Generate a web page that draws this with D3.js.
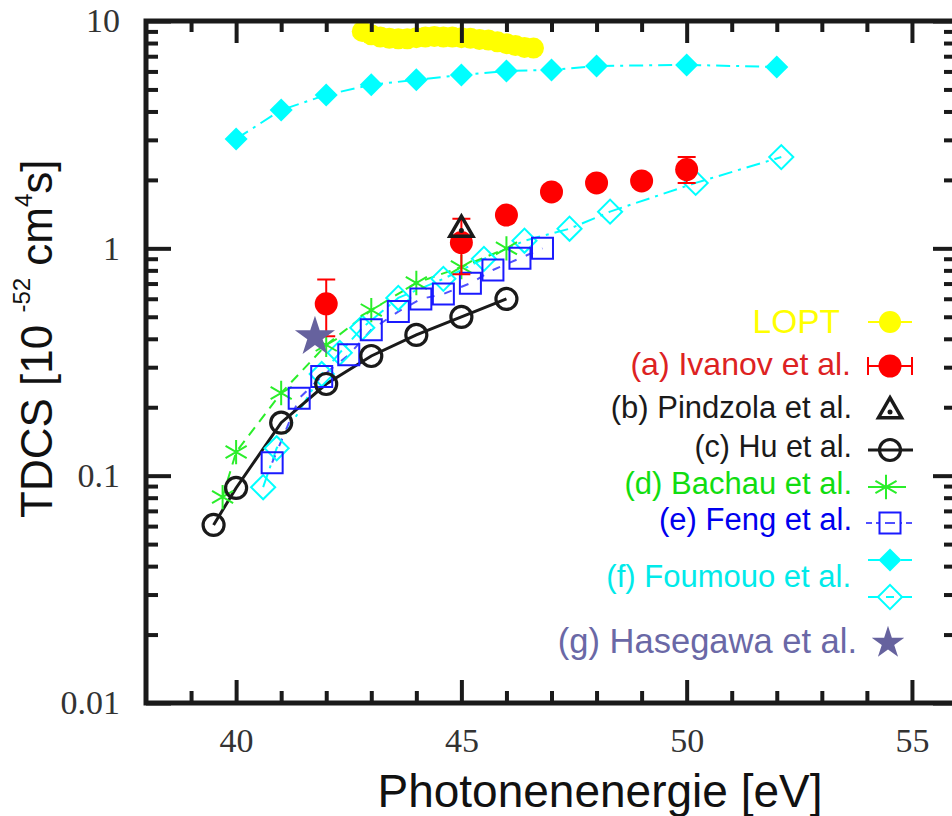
<!DOCTYPE html>
<html lang="de">
<head>
<meta charset="UTF-8">
<title>TDCS Photonenenergie</title>
<script src="https://cdn.jsdelivr.net/npm/d3@7"></script>
<style>
  body{margin:0;background:#fff;}
  svg{display:block;}
</style>
</head>
<body>
<svg width="952" height="816"></svg>
<script>
// ---- data ----
var loptE = [42.8, 43.0, 43.2, 43.4, 43.6, 43.8, 44.0, 44.2, 44.4, 44.6, 44.8, 45.0, 45.2, 45.4, 45.6, 45.8, 46.0, 46.2, 46.4, 46.6];
var loptV = [9.0, 8.7, 8.5, 8.4, 8.35, 8.35, 8.45, 8.5, 8.55, 8.5, 8.5, 8.45, 8.4, 8.3, 8.25, 8.1, 7.95, 7.8, 7.65, 7.6];

var ivanovE  = [42, 45, 46, 47, 48, 49, 50];
var ivanovV  = [0.57, 1.06, 1.40, 1.77, 1.94, 1.98, 2.22];
var ivanovLo = [0.41, 0.77, null, null, null, null, 1.94];
var ivanovHi = [0.73, 1.35, null, null, null, null, 2.52];

var pindzolaE = [45];
var pindzolaV = [1.21];

var huE = [39.5, 40, 41, 42, 43, 44, 45, 46];
var huV = [0.0607, 0.0883, 0.171, 0.253, 0.336, 0.416, 0.499, 0.599];

var bachauE = [39.7, 40, 41, 42, 43, 44, 45, 46];
var bachauV = [0.0805, 0.127, 0.231, 0.376, 0.535, 0.704, 0.828, 1.00];

var fengE = [40.8, 41.4, 41.9, 42.5, 43.0, 43.6, 44.1, 44.6, 45.2, 45.7, 46.3, 46.8];
var fengV = [0.114, 0.219, 0.273, 0.340, 0.438, 0.527, 0.599, 0.630, 0.702, 0.803, 0.904, 1.00];

var foumouoFullE = [40, 41, 42, 43, 44, 45, 46, 47, 48, 50, 52];
var foumouoFullV = [3.03, 4.06, 4.73, 5.24, 5.51, 5.79, 6.03, 6.09, 6.34, 6.41, 6.28];

var foumouoOpenE = [40.6, 40.9, 41.9, 42.3, 42.8, 43.6, 44.6, 45.5, 46.4, 47.4, 48.3, 50.2, 52.1];
var foumouoOpenV = [0.089, 0.132, 0.280, 0.347, 0.447, 0.605, 0.734, 0.899, 1.08, 1.22, 1.45, 1.94, 2.52];

var hasegawaE = [41.75];
var hasegawaV = [0.408];

var xTicks = [40, 45, 50, 55];
var yTicks = [0.01, 0.1, 1, 10];
var yTickLabels = ['0.01', '0.1', '1', '10'];

var legendLabels = ['LOPT', '(a) Ivanov et al.', '(b) Pindzola et al.', '(c) Hu et al.',
                    '(d) Bachau et al.', '(e) Feng et al.', '(f) Foumouo et al.', '(g) Hasegawa et al.'];

// ---- colours ----
var cYellow = '#ffff00', cRed = '#ff0000', cBlack = '#1a1a1a', cGreen = '#2aee2a',
    cBlue = '#1a1aff', cCyan = '#00ffff', cStar = '#66629e';
var legendColors = ['#ffff00', '#dd2222', '#1a1a1a', '#1a1a1a', '#11dd11', '#0000ee', '#00eaea', '#6a68a6'];

// ---- canvas ----
var svg = d3.select('svg');
var x = d3.scaleLinear().domain([38, 56]).range([146, 957]);
var y = d3.scaleLog().domain([0.01, 10]).range([703, 21]);

function pts(E, V) { return E.map(function(e, i) { return [e, V[i]]; }); }
var line = d3.line().x(function(d) { return x(d[0]); }).y(function(d) { return y(d[1]); });

var plot = svg.append('g');

// lines
plot.append('path').datum(pts(foumouoFullE, foumouoFullV)).attr('d', line)
    .attr('fill', 'none').attr('stroke', cCyan).attr('stroke-width', 2).attr('stroke-dasharray', '14,6,3,6');
plot.append('path').datum(pts(foumouoOpenE, foumouoOpenV)).attr('d', line)
    .attr('fill', 'none').attr('stroke', cCyan).attr('stroke-width', 2).attr('stroke-dasharray', '14,6,3,6');
plot.append('path').datum(pts(bachauE, bachauV)).attr('d', line)
    .attr('fill', 'none').attr('stroke', cGreen).attr('stroke-width', 2).attr('stroke-dasharray', '10,7');
plot.append('path').datum(pts(fengE, fengV)).attr('d', line)
    .attr('fill', 'none').attr('stroke', '#5050ff').attr('stroke-width', 2).attr('stroke-dasharray', '8,10');
plot.append('path').datum(pts(huE, huV)).attr('d', line)
    .attr('fill', 'none').attr('stroke', cBlack).attr('stroke-width', 3);

// markers
var sq = d3.symbol().type(d3.symbolSquare);
function place(d) { return 'translate(' + x(d[0]) + ',' + y(d[1]) + ')'; }

plot.selectAll('.ffull').data(pts(foumouoFullE, foumouoFullV)).enter().append('path')
    .attr('d', sq.size(265)()).attr('transform', function(d) { return place(d) + ' rotate(45)'; })
    .attr('fill', cCyan);
plot.selectAll('.fopen').data(pts(foumouoOpenE, foumouoOpenV)).enter().append('path')
    .attr('d', sq.size(290)()).attr('transform', function(d) { return place(d) + ' rotate(45)'; })
    .attr('fill', 'none').attr('stroke', cCyan).attr('stroke-width', 2);
plot.selectAll('.bach').data(pts(bachauE, bachauV)).enter().append('path')
    .attr('d', d3.symbol().type(d3.symbolAsterisk).size(420)()).attr('transform', place)
    .attr('fill', 'none').attr('stroke', cGreen).attr('stroke-width', 2);
plot.selectAll('.feng').data(pts(fengE, fengV)).enter().append('path')
    .attr('d', d3.symbol().type(d3.symbolSquare).size(441)()).attr('transform', place)
    .attr('fill', 'none').attr('stroke', cBlue).attr('stroke-width', 2);
plot.selectAll('.hu').data(pts(huE, huV)).enter().append('circle')
    .attr('cx', function(d) { return x(d[0]); }).attr('cy', function(d) { return y(d[1]); })
    .attr('r', 10.5).attr('fill', 'none').attr('stroke', cBlack).attr('stroke-width', 3.2);

// Ivanov with error bars
var iv = ivanovE.map(function(e, i) { return {e: e, v: ivanovV[i], lo: ivanovLo[i], hi: ivanovHi[i]}; });
var ivErr = iv.filter(function(d) { return d.lo !== null; });
plot.selectAll('.ivbar').data(ivErr).enter().append('path')
    .attr('d', function(d) {
        var cx = x(d.e), y1 = y(d.hi), y2 = y(d.lo);
        return 'M' + cx + ',' + y1 + 'V' + y2 + 'M' + (cx - 9) + ',' + y1 + 'H' + (cx + 9) +
               'M' + (cx - 9) + ',' + y2 + 'H' + (cx + 9);
    })
    .attr('fill', 'none').attr('stroke', cRed).attr('stroke-width', 2);
plot.selectAll('.iv').data(iv).enter().append('circle')
    .attr('cx', function(d) { return x(d.e); }).attr('cy', function(d) { return y(d.v); })
    .attr('r', 11.5).attr('fill', cRed);

// Pindzola triangle
plot.selectAll('.pin').data(pts(pindzolaE, pindzolaV)).enter().append('path')
    .attr('d', d3.symbol().type(d3.symbolTriangle).size(230)()).attr('transform', place)
    .attr('fill', 'none').attr('stroke', cBlack).attr('stroke-width', 3.5);
plot.selectAll('.pindot').data(pts(pindzolaE, pindzolaV)).enter().append('circle')
    .attr('cx', function(d) { return x(d[0]); }).attr('cy', function(d) { return y(d[1]) + 1; })
    .attr('r', 2.5).attr('fill', cBlack);

// Hasegawa star
plot.selectAll('.star').data(pts(hasegawaE, hasegawaV)).enter().append('path')
    .attr('d', d3.symbol().type(d3.symbolStar).size(500)()).attr('transform', place)
    .attr('fill', cStar);

// LOPT
plot.selectAll('.lopt').data(pts(loptE, loptV)).enter().append('circle')
    .attr('cx', function(d) { return x(d[0]); }).attr('cy', function(d) { return y(d[1]); })
    .attr('r', 10.5).attr('fill', cYellow);

// ---- axes / frame ----
var axisCol = '#1a1a1a';
var xMinor = d3.range(39, 56).filter(function(v) { return xTicks.indexOf(v) < 0; });
var yMinor = y.ticks().filter(function(v) { return yTicks.indexOf(v) < 0; });

function styleAxis(g, w) {
    g.select('.domain').remove();
    g.selectAll('.tick line').attr('stroke', axisCol).attr('stroke-width', w);
    g.selectAll('.tick text').attr('font-family', '"Liberation Serif", "Times New Roman", serif')
        .attr('font-size', 34).attr('fill', '#333');
}

svg.append('g').attr('transform', 'translate(0,703)')
    .call(d3.axisBottom(x).tickValues(xMinor).tickSizeInner(-12).tickSizeOuter(0).tickFormat(''))
    .call(styleAxis, 4);
svg.append('g').attr('transform', 'translate(0,703)')
    .call(d3.axisBottom(x).tickValues(xTicks).tickSizeInner(-23).tickSizeOuter(0).tickPadding(25).tickFormat(d3.format('d')))
    .call(styleAxis, 4);
svg.append('g').attr('transform', 'translate(0,21)')
    .call(d3.axisTop(x).tickValues(xMinor).tickSizeInner(-11).tickSizeOuter(0).tickFormat(''))
    .call(styleAxis, 4);
svg.append('g').attr('transform', 'translate(0,21)')
    .call(d3.axisTop(x).tickValues(xTicks).tickSizeInner(-22).tickSizeOuter(0).tickFormat(''))
    .call(styleAxis, 4);

svg.append('g').attr('transform', 'translate(146,0)')
    .call(d3.axisLeft(y).tickValues(yMinor).tickSizeInner(-12).tickSizeOuter(0).tickFormat(''))
    .call(styleAxis, 4);
svg.append('g').attr('transform', 'translate(146,0)')
    .call(d3.axisLeft(y).tickValues(yTicks).tickSizeInner(-25).tickSizeOuter(0).tickPadding(26)
        .tickFormat(function(d, i) { return yTickLabels[i]; }))
    .call(styleAxis, 4);
svg.append('g').attr('transform', 'translate(955,0)')
    .call(d3.axisRight(y).tickValues(yMinor).tickSizeInner(-11).tickSizeOuter(0).tickFormat(''))
    .call(styleAxis, 4);
svg.append('g').attr('transform', 'translate(955,0)')
    .call(d3.axisRight(y).tickValues(yTicks).tickSizeInner(-22).tickSizeOuter(0).tickFormat(''))
    .call(styleAxis, 4);

svg.append('rect').attr('x', 146).attr('y', 21).attr('width', 809).attr('height', 682)
    .attr('fill', 'none').attr('stroke', axisCol).attr('stroke-width', 5);

// ---- axis titles ----
var sans = '"Liberation Sans", Arial, Helvetica, sans-serif';
svg.append('text').attr('x', 600).attr('y', 807).attr('text-anchor', 'middle')
    .attr('font-family', sans).attr('font-size', 46).attr('fill', '#111')
    .text('Photonenenergie [eV]');

var yl = svg.append('text').attr('transform', 'translate(52,518) rotate(-90)')
    .attr('font-family', sans).attr('font-size', 44).attr('fill', '#111');
yl.append('tspan').text('TDCS [10 ');
yl.append('tspan').attr('font-size', 24).attr('dy', -22).text('-52');
yl.append('tspan').attr('dy', 22).text(' cm');
yl.append('tspan').attr('font-size', 24).attr('dy', -20).text('4');
yl.append('tspan').attr('dy', 20).text('s]');

// ---- legend ----
var lg = svg.append('g');
var legTextY = [333, 375, 418, 457, 494, 530, 587, 653];
var legTextX = [840, 851, 852, 852, 852, 852, 851, 857];
var legSize  = [33.5, 32, 31, 30.5, 31, 31, 31, 34.5];
lg.selectAll('text').data(legendLabels).enter().append('text')
    .attr('x', function(d, i) { return legTextX[i]; })
    .attr('y', function(d, i) { return legTextY[i]; })
    .attr('text-anchor', 'end').attr('font-family', sans)
    .attr('font-size', function(d, i) { return legSize[i]; })
    .attr('fill', function(d, i) { return legendColors[i]; })
    .text(function(d) { return d; });

var sx = 890;
// LOPT
lg.append('line').attr('x1', 868).attr('x2', 912).attr('y1', 322).attr('y2', 322).attr('stroke', cYellow).attr('stroke-width', 2);
lg.append('circle').attr('cx', sx).attr('cy', 322).attr('r', 11).attr('fill', cYellow);
// Ivanov
lg.append('path').attr('d', 'M868,366H912M868,357V375M912,357V375').attr('stroke', cRed).attr('stroke-width', 2).attr('fill', 'none');
lg.append('circle').attr('cx', sx).attr('cy', 366).attr('r', 11.5).attr('fill', cRed);
// Pindzola
lg.append('path').attr('d', d3.symbol().type(d3.symbolTriangle).size(230)()).attr('transform', 'translate(' + sx + ',411)')
    .attr('fill', 'none').attr('stroke', cBlack).attr('stroke-width', 3.5);
lg.append('circle').attr('cx', sx).attr('cy', 412).attr('r', 2.5).attr('fill', cBlack);
// Hu
lg.append('line').attr('x1', 868).attr('x2', 913).attr('y1', 450).attr('y2', 450).attr('stroke', cBlack).attr('stroke-width', 3);
lg.append('circle').attr('cx', sx).attr('cy', 450).attr('r', 10.5).attr('fill', 'none').attr('stroke', cBlack).attr('stroke-width', 3.2);
// Bachau
lg.append('line').attr('x1', 868).attr('x2', 906).attr('y1', 487).attr('y2', 487).attr('stroke', cGreen).attr('stroke-width', 2);
lg.append('path').attr('d', d3.symbol().type(d3.symbolAsterisk).size(420)()).attr('transform', 'translate(886,487)')
    .attr('fill', 'none').attr('stroke', cGreen).attr('stroke-width', 2);
// Feng
lg.append('line').attr('x1', 866).attr('x2', 913).attr('y1', 523).attr('y2', 523).attr('stroke', '#5050ff').attr('stroke-width', 2).attr('stroke-dasharray', '6,4');
lg.append('path').attr('d', d3.symbol().type(d3.symbolSquare).size(441)()).attr('transform', 'translate(' + sx + ',523)')
    .attr('fill', '#fff').attr('stroke', cBlue).attr('stroke-width', 2);
lg.append('line').attr('x1', 885).attr('x2', 895).attr('y1', 523).attr('y2', 523).attr('stroke', '#5050ff').attr('stroke-width', 2);
// Foumouo filled
lg.append('line').attr('x1', 868).attr('x2', 912).attr('y1', 560).attr('y2', 560).attr('stroke', cCyan).attr('stroke-width', 2).attr('stroke-dasharray', '20,5,3,5');
lg.append('path').attr('d', sq.size(265)()).attr('transform', 'translate(' + sx + ',560) rotate(45)').attr('fill', cCyan);
// Foumouo open
lg.append('line').attr('x1', 868).attr('x2', 912).attr('y1', 597).attr('y2', 597).attr('stroke', cCyan).attr('stroke-width', 2).attr('stroke-dasharray', '20,5,3,5');
lg.append('path').attr('d', sq.size(290)()).attr('transform', 'translate(' + sx + ',597) rotate(45)')
    .attr('fill', '#fff').attr('stroke', cCyan).attr('stroke-width', 2);
lg.append('line').attr('x1', 886).attr('x2', 894).attr('y1', 597).attr('y2', 597).attr('stroke', cCyan).attr('stroke-width', 2);
// Hasegawa
lg.append('path').attr('d', d3.symbol().type(d3.symbolStar).size(330)()).attr('transform', 'translate(888,643)').attr('fill', cStar);
</script>
</body>
</html>
